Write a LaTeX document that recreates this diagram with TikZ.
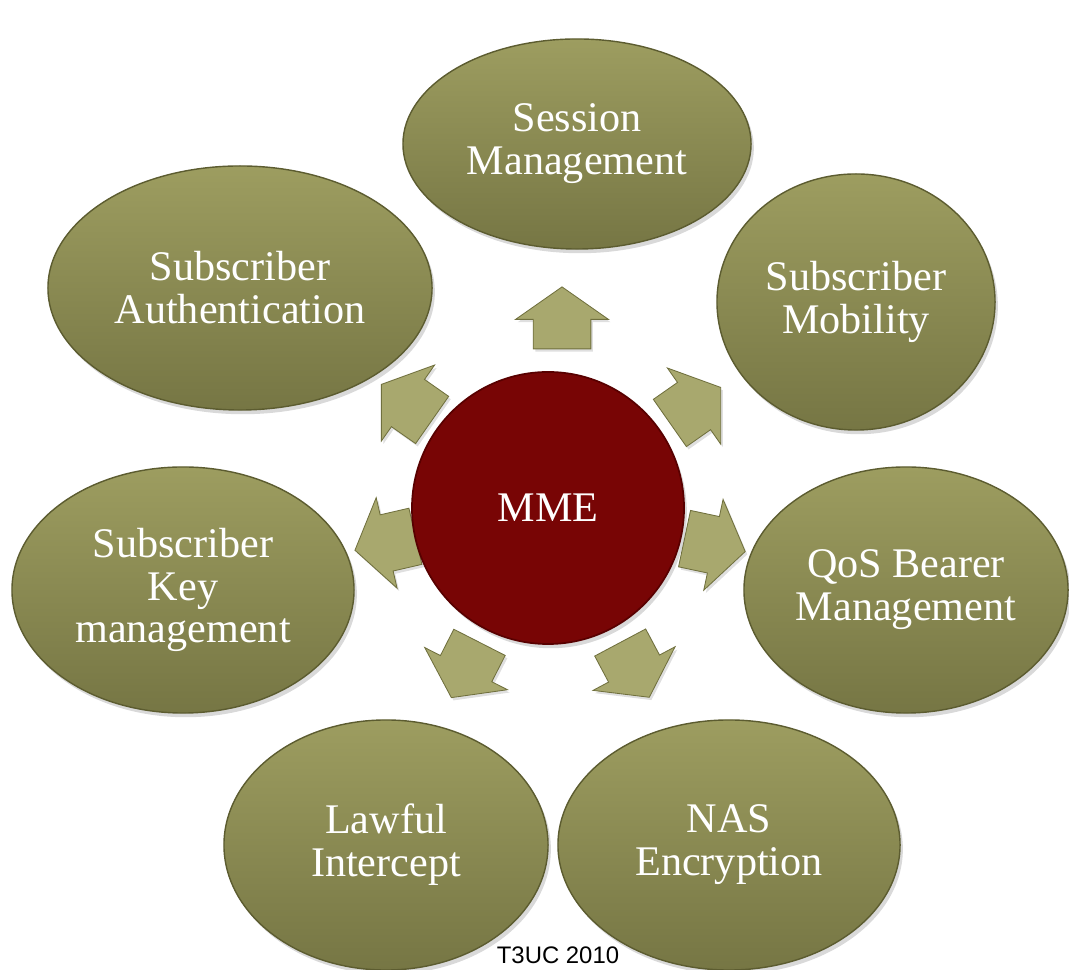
\documentclass[tikz,border=0pt]{standalone}
\usepackage{fontspec}
\setmainfont{Liberation Serif}
\newfontfamily\yearfont{Liberation Sans}
\usetikzlibrary{shapes.geometric,shapes.arrows,shadows}
\definecolor{olivetop}{RGB}{157,157,96}
\definecolor{olivebot}{RGB}{118,118,68}
\definecolor{oliveedge}{RGB}{92,92,48}
\definecolor{arrowfill}{RGB}{168,168,110}
\definecolor{arrowedge}{RGB}{112,112,62}
\definecolor{mmered}{RGB}{120,5,5}
\definecolor{mmeedge}{RGB}{88,0,0}
\begin{document}
\begin{tikzpicture}[x=0.025cm,y=0.025cm,
    every node/.style={font=\fontsize{30}{30.5}\selectfont,text=white,align=center},
    task/.style={ellipse,inner sep=0pt,top color=olivetop,bottom color=olivebot,draw=oliveedge,line width=1pt,
      drop shadow={shadow xshift=2pt,shadow yshift=-3pt,opacity=.3}},
    push/.style={single arrow,inner xsep=0pt,inner ysep=.71cm,minimum height=1.55cm,
      single arrow head extend=.44cm,single arrow tip angle=110,fill=arrowfill,draw=arrowedge,line width=.6pt,
      drop shadow={shadow xshift=1.5pt,shadow yshift=-2pt,opacity=.25}}]
    \clip (0,0) rectangle (1069,970);
    \node[task,minimum width=8.7cm,minimum height=5.25cm] (session) at (577,826) {Session\\Management};
    \node[task,minimum width=6.95cm,minimum height=6.4cm] (mobility) at (856,668) {Subscriber\\Mobility};
    \node[task,minimum width=8.1cm,minimum height=6.15cm] (qos) at (906,380) {QoS Bearer\\Management};
    \node[task,minimum width=8.55cm,minimum height=6.25cm] (nas) at (729,125) {NAS\\Encryption};
    \node[task,minimum width=8.1cm,minimum height=6.25cm] (lawful) at (386,125) {Lawful\\Intercept};
    \node[task,minimum width=8.55cm,minimum height=6.15cm] (keymgmt) at (183,380) {Subscriber\\Key\\management};
    \node[task,minimum width=9.6cm,minimum height=6.1cm] (auth) at (240,682) {Subscriber\\Authentication};
    \foreach \x/\y/\a [count=\i] in {562/642/90,687/559/35,705/427/-12,630/309/-62,470/309/-117,395/429/193,415/562/145}
      \node[push,rotate=\a] (push\i) at (\x,\y) {};
    \node[circle,minimum size=6.8cm,inner sep=0pt,fill=mmered,draw=mmeedge,line width=1.2pt,
      drop shadow={shadow xshift=2pt,shadow yshift=-3pt,opacity=.3}] (mme) at (548,462) {MME};
    \node[text=black,font=\yearfont\fontsize{17}{20}\selectfont,anchor=base] (year) at (558,6) {T3UC 2010};
\end{tikzpicture}
\end{document}
